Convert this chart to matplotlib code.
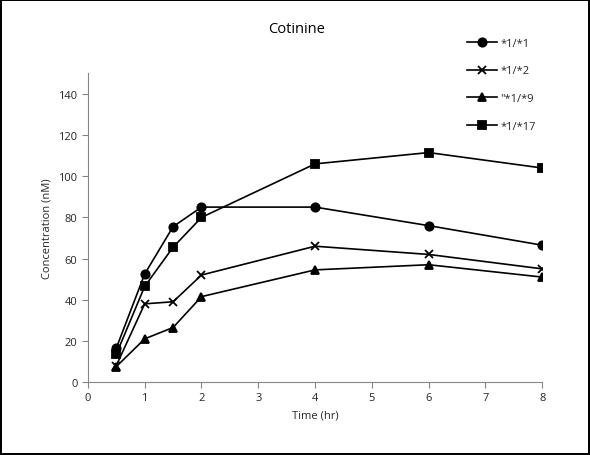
import matplotlib
matplotlib.use("Agg")
import matplotlib.pyplot as plt

plt.rcParams['font.family'] = ['Open Sans', 'DejaVu Sans']

time_hr = [0.5, 1, 1.5, 2, 4, 6, 8]
conc_1_1 = [16.5, 52.5, 75.5, 85, 85, 76, 66.5]
conc_1_2 = [8, 38, 39, 52, 66, 62, 55]
conc_1_9 = [7.5, 21, 26.5, 41.5, 54.5, 57, 51]
conc_1_17 = [13.5, 46.5, 65.5, 80, 106, 111.5, 104]

series = [
    ('*1/*1', conc_1_1, 'o', 6),
    ('*1/*2', conc_1_2, 'x', 6),
    ('"*1/*9', conc_1_9, '^', 6),
    ('*1/*17', conc_1_17, 's', 6),
]

fig = plt.figure(figsize=(5.9, 4.56), dpi=100)
fig.patch.set_edgecolor('black')
fig.patch.set_linewidth(1.5)
ax = fig.add_axes([0.149, 0.160, 0.770, 0.677])

for label, vals, mk, ms in series:
    ax.plot(time_hr, vals, color='black', lw=1.2, marker=mk, ms=ms,
            mew=1.3, label=label)

ax.set_xlim(0, 8)
ax.set_ylim(0, 150)
ax.set_xticks(range(0, 9))
ax.set_yticks(range(0, 141, 20))
for s in ['top', 'right']:
    ax.spines[s].set_visible(False)
for s in ['left', 'bottom']:
    ax.spines[s].set_color('#868686')
ax.tick_params(colors='#868686', labelcolor='#262626', labelsize=8,
               length=4, direction='out')
ax.set_xlabel('Time (hr)', fontsize=8, color='#262626')
ax.set_ylabel('Concentration (nM)', fontsize=8, color='#262626')
fig.text(0.503, 0.936, 'Cotinine', ha='center', va='center', fontsize=10.5,
         color='black')

fig.legend(loc='upper left', bbox_to_anchor=(0.775, 0.937), frameon=False,
           fontsize=8, handlelength=2.7, labelspacing=1.5, handletextpad=0.3,
           labelcolor='#262626')

fig.savefig('out.png', dpi=100)
